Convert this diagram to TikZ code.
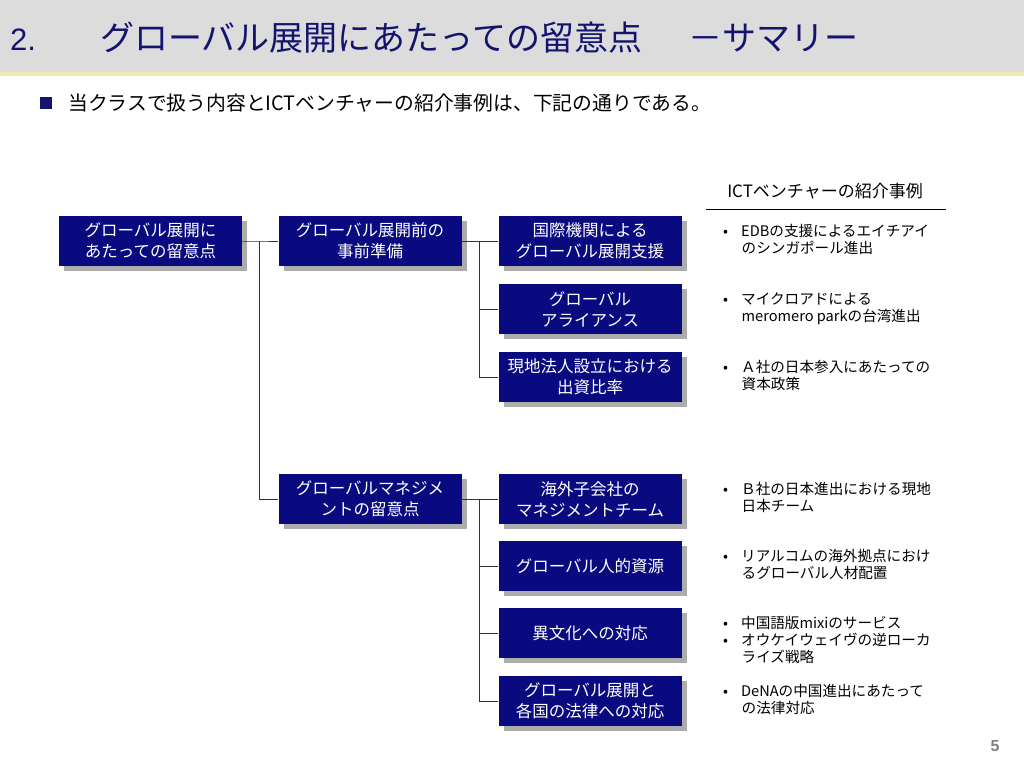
\documentclass[tikz,border=0pt]{standalone}
\usepackage{fontspec}
\setmainfont{Noto Sans CJK JP}
\newfontfamily\latinfont{Liberation Sans}
\usetikzlibrary{shadows}
\definecolor{boxnavy}{HTML}{0A0A80}
\definecolor{titlenavy}{HTML}{14146E}
\definecolor{headgray}{HTML}{DCDCDC}
\definecolor{headrule}{HTML}{EEEAB4}
\definecolor{linkgray}{HTML}{333333}

\begin{document}
\begin{tikzpicture}
	[x=1pt, y=-1pt,
	topic/.style={fill=boxnavy, text=white, align=center, inner sep=0pt,
		minimum width=183pt, minimum height=50pt,
		font=\fontsize{16.5}{21}\selectfont,
		drop shadow={shadow xshift=5pt, shadow yshift=-5pt, fill=gray!65, opacity=1}},
	example/.style={anchor=base west, align=left, inner sep=0pt,
		font=\fontsize{14.6}{17}\selectfont},
	link/.style={draw=linkgray, line width=0.8pt}]
	\useasboundingbox (0,0) rectangle (1024,768);
	% header band
	\fill[headgray] (0,0) rectangle (1024,72);
	\fill[headrule] (0,72) rectangle (1024,76);
	\node[anchor=base west, inner sep=0pt, text=titlenavy, font=\latinfont\fontsize{31}{34}\selectfont] (num) at (10,50) {2.};
	\node[anchor=base west, inner sep=0pt, text=titlenavy, font=\fontsize{34}{38}\selectfont] (title) at (100,50) {グローバル展開にあたっての留意点};
	\node[anchor=base west, inner sep=0pt, text=titlenavy, font=\fontsize{34}{38}\selectfont] (subtitle) at (688,50) {－サマリー};
	% lead sentence
	\fill[titlenavy] (40,97) rectangle (52,109);
	\node[anchor=base west, inner sep=0pt, font=\fontsize{19.8}{22}\selectfont] (lead) at (68,110) {当クラスで扱う内容とICTベンチャーの紹介事例は、下記の通りである。};
	% tree of topics
	\node[topic] (root) at (150.5,241) {グローバル展開に\\あたっての留意点};
	\node[topic] (pre) at (370,241) {グローバル展開前の\\事前準備};
	\node[topic] (mgmt) at (370,499) {グローバルマネジメ\\ントの留意点};
	\node[topic] (intl) at (590,241) {国際機関による\\グローバル展開支援};
	\node[topic] (alliance) at (590,309) {グローバル\\アライアンス};
	\node[topic] (equity) at (590,377) {現地法人設立における\\出資比率};
	\node[topic] (team) at (590,499) {海外子会社の\\マネジメントチーム};
	\node[topic] (hr) at (590,566) {グローバル人的資源};
	\node[topic] (culture) at (590,633) {異文化への対応};
	\node[topic] (law) at (590,701) {グローバル展開と\\各国の法律への対応};
	% connectors
	\draw[link] (root.east) -| ([xshift=-19pt]pre.west) -- (pre.west);
	\draw[link] ([xshift=-19pt]pre.west) |- (mgmt.west);
	\draw[link] (pre.east) -| ([xshift=-19pt]equity.west) -- (equity.west);
	\draw[link] ([xshift=-19pt]alliance.west) -- (alliance.west);
	\draw[link] ([xshift=-19pt]intl.west) -- (intl.west);
	\draw[link] (mgmt.east) -| ([xshift=-19pt]law.west) -- (law.west);
	\draw[link] ([xshift=-19pt]team.west) -- (team.west);
	\draw[link] ([xshift=-19pt]hr.west) -- (hr.west);
	\draw[link] ([xshift=-19pt]culture.west) -- (culture.west);
	% venture examples (base = baseline of last line)
	\node[inner sep=0pt, font=\fontsize{17}{19}\selectfont] (casehead) at (825,191) {ICTベンチャーの紹介事例};
	\draw[line width=0.8pt] (706,209) -- (946,209);
	\node[example] (ex1) at (723,253) {•\hspace{13pt}EDBの支援によるエイチアイ\\\hspace*{18.5pt}のシンガポール進出};
	\node[example] (ex2) at (723,321) {•\hspace{13pt}マイクロアドによる\\\hspace*{18.5pt}meromero parkの台湾進出};
	\node[example] (ex3) at (723,389) {•\hspace{13pt}Ａ社の日本参入にあたっての\\\hspace*{18.5pt}資本政策};
	\node[example] (ex4) at (723,511) {•\hspace{13pt}Ｂ社の日本進出における現地\\\hspace*{18.5pt}日本チーム};
	\node[example] (ex5) at (723,578) {•\hspace{13pt}リアルコムの海外拠点におけ\\\hspace*{18.5pt}るグローバル人材配置};
	\node[example] (ex6) at (723,662) {•\hspace{13pt}中国語版mixiのサービス\\•\hspace{13pt}オウケイウェイヴの逆ローカ\\\hspace*{18.5pt}ライズ戦略};
	\node[example] (ex7) at (723,713) {•\hspace{13pt}DeNAの中国進出にあたって\\\hspace*{18.5pt}の法律対応};
	% page number
	\node[inner sep=0pt, text=gray, font=\latinfont\bfseries\fontsize{16}{18}\selectfont] (page) at (995,746) {5};
\end{tikzpicture}
\end{document}
